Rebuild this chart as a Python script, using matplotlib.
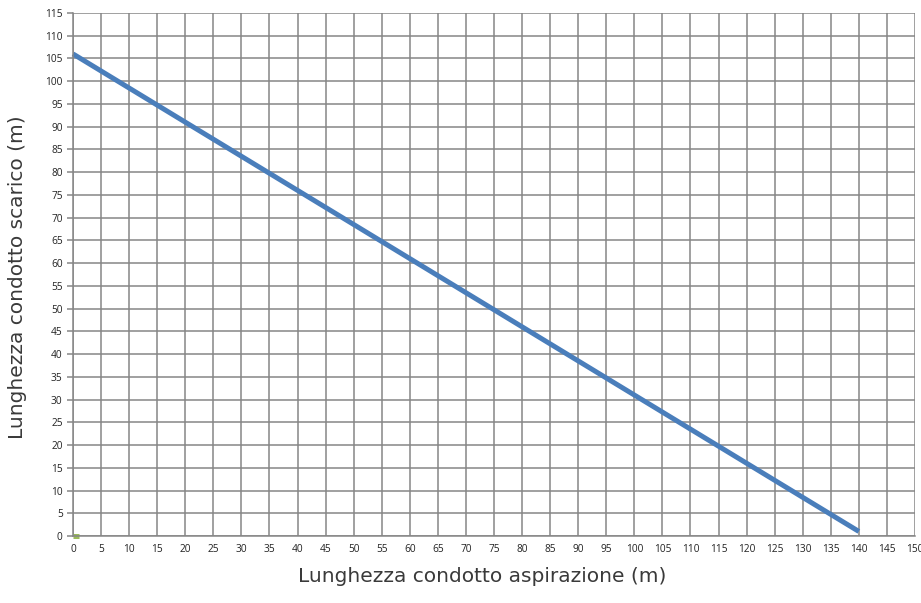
import matplotlib
matplotlib.use("Agg")
import matplotlib.pyplot as plt
import numpy as np

x_suction = [0, 140]
y_discharge = [106, 1]
green_x = [0, 1]
green_y = [0, 0]
x_ticks = list(range(0, 155, 5))
y_ticks = list(range(0, 120, 5))

fig = plt.figure(figsize=(9.21, 6.03), dpi=100)
L, R, B, T = 73, 915, 536, 13
ax = fig.add_axes([L/921, 1-B/603, (R-L)/921, (B-T)/603])

ax.set_xlim(0, 150)
ax.set_ylim(0, 115)
ax.set_xticks(x_ticks)
ax.set_yticks(y_ticks)
ax.grid(True, color="#868686", linewidth=1.1)
ax.set_axisbelow(True)
for s in ["top", "right"]:
    ax.spines[s].set_visible(False)
for s in ["left", "bottom"]:
    ax.spines[s].set_color("#868686")
    ax.spines[s].set_linewidth(1.1)
ax.tick_params(axis="both", colors="#868686", length=4, width=1.1, labelsize=7.3, labelcolor="#222222")
ax.tick_params(axis="x", length=0, pad=6)
for lab in ax.get_xticklabels() + ax.get_yticklabels():
    lab.set_family("Open Sans")

ax.plot(x_suction, y_discharge, color="#4A7EBB", linewidth=3.6, solid_capstyle="butt", clip_on=False)
ax.plot(green_x, green_y, color="#9BBB59", linewidth=3.6, solid_capstyle="butt", clip_on=False)

ax.set_xlabel("Lunghezza condotto aspirazione (m)", fontsize=14.5, family="DejaVu Sans", color="#3a3a3a", va="center")
ax.set_ylabel("Lunghezza condotto scarico (m)", fontsize=14.5, family="DejaVu Sans", color="#3a3a3a", va="center")
ax.xaxis.set_label_coords((482-L)/(R-L), (B-577)/(B-T))
ax.yaxis.set_label_coords((18-L)/(R-L), (B-277)/(B-T))

fig.savefig("out.png", dpi=100)
